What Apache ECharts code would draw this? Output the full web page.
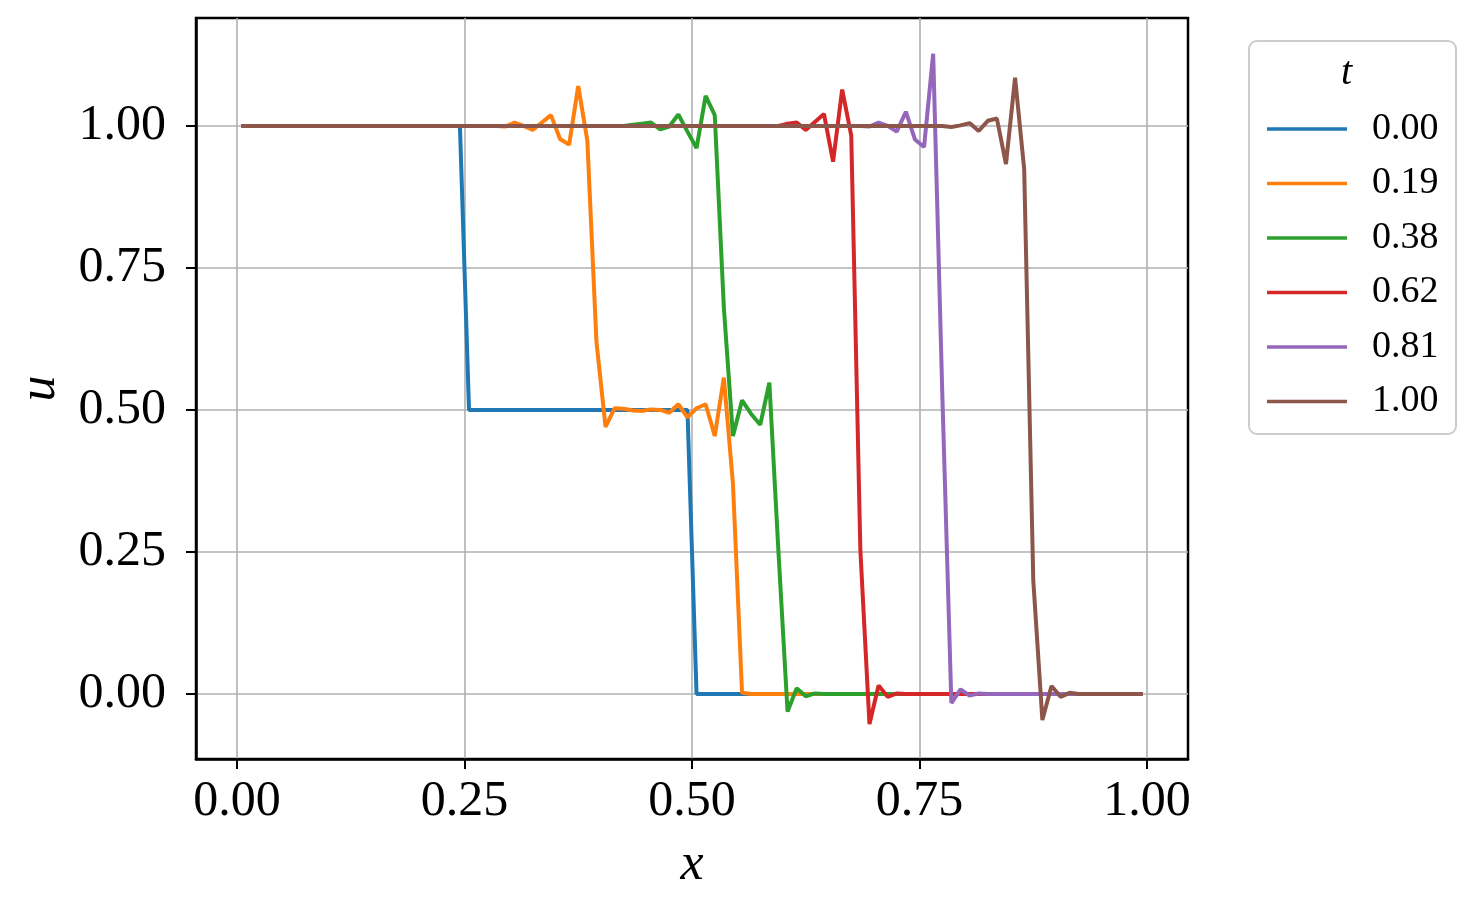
<!DOCTYPE html>
<html>
<head>
<meta charset="utf-8">
<script src="https://cdn.jsdelivr.net/npm/echarts@6/dist/echarts.min.js"></script>
<style>
  html, body { margin: 0; padding: 0; background: #fff; }
  #chart { width: 1475px; height: 911px; }
</style>
</head>
<body>
<div id="chart"></div>
<script>
// cell centres 0.005 ... 0.995
var xs = [
  0.005,0.015,0.025,0.035,0.045,0.055,0.065,0.075,0.085,0.095,
  0.105,0.115,0.125,0.135,0.145,0.155,0.165,0.175,0.185,0.195,
  0.205,0.215,0.225,0.235,0.245,0.255,0.265,0.275,0.285,0.295,
  0.305,0.315,0.325,0.335,0.345,0.355,0.365,0.375,0.385,0.395,
  0.405,0.415,0.425,0.435,0.445,0.455,0.465,0.475,0.485,0.495,
  0.505,0.515,0.525,0.535,0.545,0.555,0.565,0.575,0.585,0.595,
  0.605,0.615,0.625,0.635,0.645,0.655,0.665,0.675,0.685,0.695,
  0.705,0.715,0.725,0.735,0.745,0.755,0.765,0.775,0.785,0.795,
  0.805,0.815,0.825,0.835,0.845,0.855,0.865,0.875,0.885,0.895,
  0.905,0.915,0.925,0.935,0.945,0.955,0.965,0.975,0.985,0.995
];

var u000 = [
  1,1,1,1,1,1,1,1,1,1,
  1,1,1,1,1,1,1,1,1,1,
  1,1,1,1,1,0.5,0.5,0.5,0.5,0.5,
  0.5,0.5,0.5,0.5,0.5,0.5,0.5,0.5,0.5,0.5,
  0.5,0.5,0.5,0.5,0.5,0.5,0.5,0.5,0.5,0.5,
  0,0,0,0,0,0,0,0,0,0,
  0,0,0,0,0,0,0,0,0,0,
  0,0,0,0,0,0,0,0,0,0,
  0,0,0,0,0,0,0,0,0,0,
  0,0,0,0,0,0,0,0,0,0
];

var u019 = [
  1,1,1,1,1,1,1,1,1,1,
  1,1,1,1,1,1,1,1,1,1,
  1,1,1,1,1,1,1,1,1,0.999,
  1.006,1.0,0.993,1.006,1.019,0.977,0.967,1.07,0.974,0.62,
  0.47,0.503,0.502,0.499,0.498,0.501,0.5,0.495,0.51,0.487,
  0.503,0.51,0.454,0.557,0.37,0.002,0,0,0,0,
  0,0,0,0,0,0,0,0,0,0,
  0,0,0,0,0,0,0,0,0,0,
  0,0,0,0,0,0,0,0,0,0,
  0,0,0,0,0,0,0,0,0,0
];

var u038 = [
  1,1,1,1,1,1,1,1,1,1,
  1,1,1,1,1,1,1,1,1,1,
  1,1,1,1,1,1,1,1,1,1,
  1,1,1,1,1,1,1,1,1,1,
  1,1,1.0,1.002,1.004,1.006,0.994,0.999,1.02,0.99,
  0.961,1.053,1.019,0.68,0.454,0.517,0.493,0.474,0.548,0.25,
  -0.031,0.01,-0.004,0.001,0,0,0,0,0,0,
  0,0,0,0,0,0,0,0,0,0,
  0,0,0,0,0,0,0,0,0,0,
  0,0,0,0,0,0,0,0,0,0
];

var u062 = [
  1,1,1,1,1,1,1,1,1,1,
  1,1,1,1,1,1,1,1,1,1,
  1,1,1,1,1,1,1,1,1,1,
  1,1,1,1,1,1,1,1,1,1,
  1,1,1,1,1,1,1,1,1,1,
  1,1,1,1,1,1,1,1,1,1.0,
  1.004,1.006,0.993,1.007,1.021,0.937,1.064,0.983,0.253,-0.053,
  0.015,-0.005,0.001,0,0,0,0,0,0,0,
  0,0,0,0,0,0,0,0,0,0,
  0,0,0,0,0,0,0,0,0,0
];

var u081 = [
  1,1,1,1,1,1,1,1,1,1,
  1,1,1,1,1,1,1,1,1,1,
  1,1,1,1,1,1,1,1,1,1,
  1,1,1,1,1,1,1,1,1,1,
  1,1,1,1,1,1,1,1,1,1,
  1,1,1,1,1,1,1,1,1,1,
  1,1,1,1,1,1,1,1,1.0,0.999,
  1.006,1.0,0.99,1.025,0.976,0.963,1.127,0.53,-0.016,0.008,
  -0.003,0.001,0,0,0,0,0,0,0,0,
  0,0,0,0,0,0,0,0,0,0
];

var u100 = [
  1,1,1,1,1,1,1,1,1,1,
  1,1,1,1,1,1,1,1,1,1,
  1,1,1,1,1,1,1,1,1,1,
  1,1,1,1,1,1,1,1,1,1,
  1,1,1,1,1,1,1,1,1,1,
  1,1,1,1,1,1,1,1,1,1,
  1,1,1,1,1,1,1,1,1,1,
  1,1,1,1,1,1,1,1.0,0.998,1.001,
  1.005,0.991,1.009,1.013,0.933,1.085,0.924,0.2,-0.046,0.014,
  -0.005,0.002,0,0,0,0,0,0,0,0
];

var tLabels = ['0.00', '0.19', '0.38', '0.62', '0.81', '1.00'];
var tValues = [u000, u019, u038, u062, u081, u100];
var colors = ['#1f77b4', '#ff7f0e', '#2ca02c', '#d62728', '#9467bd', '#8c564b'];
var xTicks = [0, 0.25, 0.5, 0.75, 1];
var yTicks = [0, 0.25, 0.5, 0.75, 1];

var serif = '"Liberation Serif", "DejaVu Serif", serif';

var chart = echarts.init(document.getElementById('chart'));

var series = tLabels.map(function (name, k) {
  return {
    name: name,
    type: 'line',
    data: xs.map(function (x, i) { return [x, tValues[k][i]]; }),
    showSymbol: false,
    symbol: 'none',
    lineStyle: { color: colors[k], width: 4 },
    itemStyle: { color: colors[k] },
    z: 2 + k
  };
});

var boxGraphics = [
  {
    type: 'rect', left: 1248, top: 40, z: 0,
    shape: { width: 207, height: 393, r: 8 },
    style: { fill: 'rgba(255,255,255,0.8)', stroke: '#cccccc', lineWidth: 2 }
  },
  {
    type: 'text', left: 1341, top: 53, z: 10,
    style: { text: 't', fontFamily: serif, fontStyle: 'italic', fontSize: 40, fill: '#000' }
  }
];

var option = {
  animation: false,
  grid: {
    left: 196, top: 18, width: 992, height: 741,
    outerBoundsMode: 'none',
    containLabel: false,
    show: true, borderColor: '#000', borderWidth: 2.5, backgroundColor: 'transparent'
  },
  xAxis: {
    type: 'value',
    min: -0.045, max: 1.045,
    name: 'x',
    nameLocation: 'middle',
    nameGap: 80,
    nameTextStyle: { fontFamily: serif, fontStyle: 'italic', fontSize: 52, color: '#000' },
    axisLine: { show: true, onZero: false, lineStyle: { color: '#000', width: 2.5 } },
    axisTick: { show: true, inside: false, length: 10, customValues: xTicks, lineStyle: { color: '#000', width: 2 } },
    axisLabel: {
      customValues: xTicks, margin: 18, color: '#000', fontFamily: serif, fontSize: 50,
      formatter: function (v) { return v.toFixed(2); }
    },
    splitLine: { show: true, lineStyle: { color: '#b0b0b0', width: 1.6 } }
  },
  yAxis: {
    type: 'value',
    min: -0.1145, max: 1.19,
    name: 'u',
    nameLocation: 'middle',
    nameGap: 130,
    nameTextStyle: { fontFamily: serif, fontStyle: 'italic', fontSize: 52, color: '#000' },
    axisLine: { show: true, onZero: false, lineStyle: { color: '#000', width: 2.5 } },
    axisTick: { show: true, inside: false, length: 10, customValues: yTicks, lineStyle: { color: '#000', width: 2 } },
    axisLabel: {
      customValues: yTicks, margin: 30, color: '#000', fontFamily: serif, fontSize: 50,
      formatter: function (v) { return v.toFixed(2); }
    },
    splitLine: { show: true, lineStyle: { color: '#b0b0b0', width: 1.6 } }
  },
  legend: {
    orient: 'vertical',
    left: 1262, top: 104,
    icon: 'rect',
    itemWidth: 80, itemHeight: 3.5,
    itemGap: 14.5,
    data: tLabels,
    textStyle: { fontFamily: serif, fontSize: 38, color: '#000', lineHeight: 40, padding: [0, 0, 0, 20] }
  },
  graphic: boxGraphics,
  series: series
};

chart.setOption(option);
</script>
</body>
</html>
